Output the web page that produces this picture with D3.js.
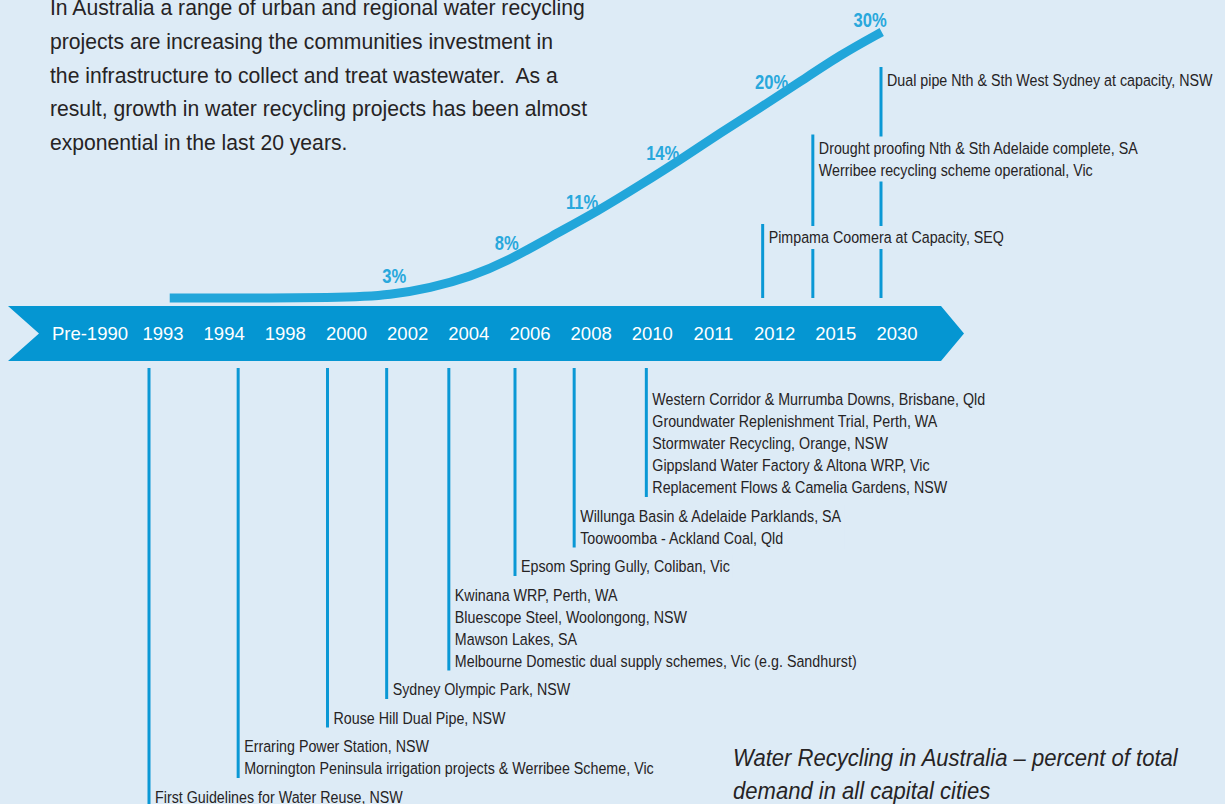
<!DOCTYPE html>
<html lang="en">
<head>
<meta charset="UTF-8">
<title>Water Recycling in Australia</title>
<script src="https://d3js.org/d3.v7.min.js"></script>
<style>
  body { margin: 0; background: #ddebf6; }
  svg { display: block; }
  .cond { font-family: "Liberation Sans", Arial, sans-serif; fill: #262324; }
</style>
</head>
<body>
<svg width="1225" height="804"></svg>
<script>
// labels along the arrow
const periods = ["Pre-1990", "1993", "1994", "1998", "2000", "2002", "2004", "2006", "2008", "2010", "2011", "2012", "2015", "2030"];

// growth curve (t = position on timeline, v = percent)
const curveT = [1.11, 4.06, 4.71, 5.37, 6.02, 6.67, 7.33, 8.14, 8.80, 9.45, 10.11, 10.76, 11.41, 12.07, 12.75];
const curveV = [0, 0, 0.34, 1.13, 2.37, 4.29, 6.88, 9.92, 12.74, 15.56, 18.61, 21.43, 24.36, 27.41, 30];

const pctLabels = ["3%", "8%", "11%", "14%", "20%", "30%"];
const pctT = [4.78, 6.62, 7.85, 9.17, 10.95, 12.56];

// milestones under the arrow, top to bottom
const belowYears = ["2010", "2008", "2006", "2004", "2002", "2000", "1994", "1993"];
const belowItems = [
  ["Western Corridor & Murrumba Downs, Brisbane, Qld", "Groundwater Replenishment Trial, Perth, WA", "Stormwater Recycling, Orange, NSW", "Gippsland Water Factory & Altona WRP, Vic", "Replacement Flows & Camelia Gardens, NSW"],
  ["Willunga Basin & Adelaide Parklands, SA", "Toowoomba - Ackland Coal, Qld"],
  ["Epsom Spring Gully, Coliban, Vic"],
  ["Kwinana WRP, Perth, WA", "Bluescope Steel, Woolongong, NSW", "Mawson Lakes, SA", "Melbourne Domestic dual supply schemes, Vic (e.g. Sandhurst)"],
  ["Sydney Olympic Park, NSW"],
  ["Rouse Hill Dual Pipe, NSW"],
  ["Erraring Power Station, NSW", "Mornington Peninsula irrigation projects & Werribee Scheme, Vic"],
  ["First Guidelines for Water Reuse, NSW"]
];

// milestones above the arrow, bottom to top
const aboveYears = ["2012", "2015", "2030"];
const aboveItems = [
  ["Pimpama Coomera at Capacity, SEQ"],
  ["Drought proofing Nth & Sth Adelaide complete, SA", "Werribee recycling scheme operational, Vic"],
  ["Dual pipe Nth & Sth West Sydney at capacity, NSW"]
];

const intro = [
  "In Australia a range of urban and regional water recycling",
  "projects are increasing the communities investment in",
  "the infrastructure to collect and treat wastewater.  As a",
  "result, growth in water recycling projects has been almost",
  "exponential in the last 20 years."
];
const caption = ["Water Recycling in Australia \u2013 percent of total", "demand in all capital cities"];

const svg = d3.select("svg");
const bg = "#ddebf6", band = "#0596d2", lineCol = "#0a98d5", curveCol = "#22a6da", pctCol = "#29a8dc";

const tl = d3.scaleLinear().domain([1, 13]).range([163, 897]);
const y = d3.scaleLinear().domain([0, 30]).range([298, 32]);
const curveAt = d3.scaleLinear().domain(curveT).range(curveV);

// condensed look: squeeze Liberation Sans horizontally
const squeeze = { intro: 0.94, item: 0.84, pct: 0.85, caption: 0.9 };

// small hand nudges so the stems sit where the original put them
const stemShift = { "1993": -14, "1994": 14, "2000": -19, "2002": -21, "2004": -20, "2006": -15, "2008": -17, "2010": -6, "2012": -12, "2015": -23, "2030": -16 };
const stemX = yr => tl(periods.indexOf(yr)) + stemShift[yr];

// intro paragraph
svg.append("g").selectAll("text")
  .data(intro)
  .join("text")
  .attr("class", "cond")
  .attr("transform", (d, i) => `translate(50,${15 + i * 33.75}) scale(${squeeze.intro},1)`)
  .style("font-size", "22.5px")
  .style("white-space", "pre")
  .text(d => d);

// arrow band
const bTop = 306, bBot = 361, bMid = (bTop + bBot) / 2;
const bLeft = 8, bRight = 941;
svg.append("path")
  .attr("d", `M${bLeft},${bTop}L${bRight},${bTop}L${bRight + 23},${bMid}L${bRight},${bBot}L${bLeft},${bBot}L${bLeft + 31},${bMid}Z`)
  .attr("fill", band);

svg.append("g").selectAll("text")
  .data(periods)
  .join("text")
  .attr("x", (d, i) => i ? tl(i) : tl(1) - 35)
  .attr("y", 339.5)
  .attr("text-anchor", (d, i) => i ? "middle" : "end")
  .attr("fill", "#fff")
  .style("font-family", "'Liberation Sans', Arial, sans-serif")
  .style("font-size", "18.5px")
  .text(d => d);

// growth curve
const pts = curveT.map((t, i) => ({ t, v: curveV[i] }));
svg.append("path")
  .datum(pts)
  .attr("fill", "none")
  .attr("stroke", curveCol)
  .attr("stroke-width", 9)
  .attr("d", d3.line().x(d => tl(d.t)).y(d => y(d.v)).curve(d3.curveBasis));

svg.append("g").selectAll("text")
  .data(pctLabels)
  .join("text")
  .attr("class", "cond")
  .attr("transform", (d, i) => `translate(${tl(pctT[i])},${y(curveAt(pctT[i])) - 11}) scale(${squeeze.pct},1)`)
  .attr("text-anchor", "middle")
  .style("fill", pctCol)
  .style("font-weight", "bold")
  .style("font-size", "19.5px")
  .text(d => d);

// milestone blocks, with a background patch so crossing stems break behind the text
function block(g, x, baselines, lines) {
  const grp = g.append("g");
  const bgRect = grp.append("rect").attr("fill", bg);
  const txt = grp.selectAll("text")
    .data(lines)
    .join("text")
    .attr("class", "cond")
    .attr("transform", (d, i) => `translate(${x + 6},${baselines[i]}) scale(${squeeze.item},1)`)
    .style("font-size", "17px")
    .text(d => d);
  const w = d3.max(txt.nodes(), n => n.getComputedTextLength()) * squeeze.item;
  bgRect.attr("x", x + 3).attr("y", baselines[0] - 17)
    .attr("width", w + 6).attr("height", baselines[baselines.length - 1] - baselines[0] + 23);
}

const stems = svg.append("g");
const labels = svg.append("g");

// below: stack downwards
let base = 405;
belowYears.forEach((yr, k) => {
  const lines = belowItems[k];
  const bl = lines.map((d, i) => base + i * 22);
  const x = stemX(yr);
  stems.append("line")
    .attr("x1", x).attr("x2", x)
    .attr("y1", 368).attr("y2", bl[bl.length - 1] + 4)
    .attr("stroke", lineCol).attr("stroke-width", 3);
  block(labels, x, bl, lines);
  base = bl[bl.length - 1] + 22 + 6.5;
});

// above: stack upwards
let last = 243;
aboveYears.forEach((yr, k) => {
  const lines = aboveItems[k];
  const first = last - (lines.length - 1) * 22;
  const bl = lines.map((d, i) => first + i * 22);
  const x = stemX(yr);
  stems.append("line")
    .attr("x1", x).attr("x2", x)
    .attr("y1", 298).attr("y2", first - 19)
    .attr("stroke", lineCol).attr("stroke-width", 3);
  block(labels, x, bl, lines);
  last = first - 67.5;
});

// caption
svg.append("g").selectAll("text")
  .data(caption)
  .join("text")
  .attr("class", "cond")
  .attr("transform", (d, i) => `translate(733,${766 + i * 33}) scale(${squeeze.caption},1)`)
  .style("font-size", "24.5px")
  .style("font-style", "italic")
  .text(d => d);
</script>
</body>
</html>
